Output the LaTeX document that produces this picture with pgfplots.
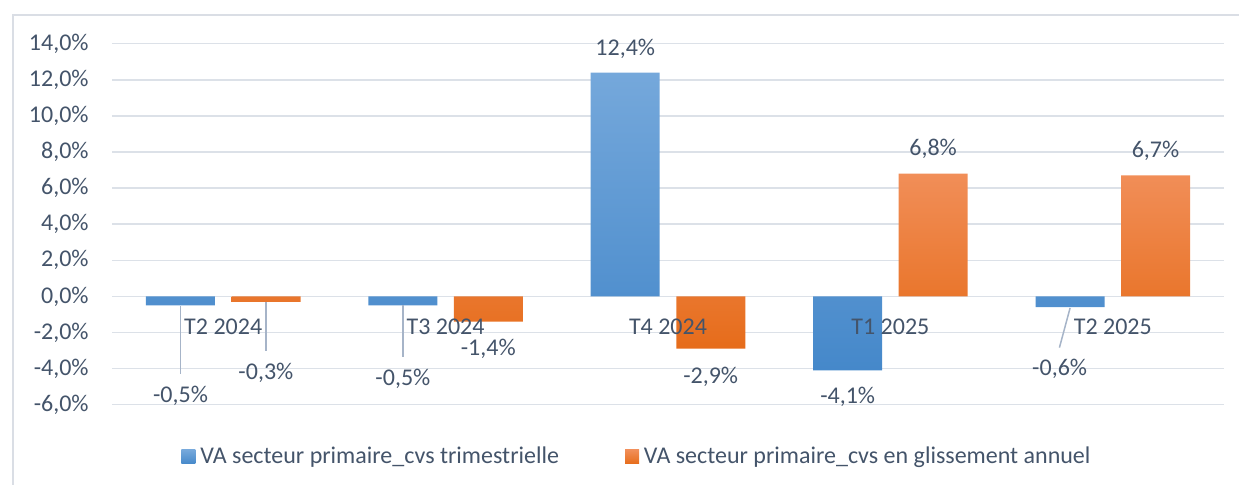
\documentclass[border=0pt]{standalone}
\usepackage{fontspec}
\setmainfont{Carlito}
\usepackage{pgfplots}
\pgfplotsset{compat=1.18}
\pgfplotsset{layers/labelsontop/.define layer set={
    axis background,axis grid,axis ticks,axis lines,pre main,main,
    axis tick labels,axis descriptions,axis foreground}{
    grid style={/pgfplots/on layer=axis grid},
    tick style={/pgfplots/on layer=axis ticks},
    axis line style={/pgfplots/on layer=axis lines},
    label style={/pgfplots/on layer=axis descriptions},
    legend style={/pgfplots/on layer=axis descriptions},
    ticklabel style={/pgfplots/on layer=axis tick labels},
  }}

\definecolor{txt}{HTML}{44546A}
\definecolor{gridc}{HTML}{DCE1E8}
\definecolor{framec}{HTML}{DADEE5}
\definecolor{leader}{HTML}{A6B4C8}
\definecolor{blueTop}{HTML}{75A8DB}
\definecolor{blueBot}{HTML}{4588CA}
\definecolor{orTop}{HTML}{F18E58}
\definecolor{orBot}{HTML}{E66C1A}

% bars: x, value
\pgfplotstableread{
x y
0 -0.5
1 -0.5
2 12.4
3 -4.1
4 -0.6
}\trim
\pgfplotstableread{
x y
0 -0.3
1 -1.4
2 -2.9
3 6.8
4 6.7
}\glis
% data labels: x, baseline y, value
\pgfplotstableread{
x ly v
-0.192 -5.86 -0.5
0.808 -4.92 -0.5
1.808 13.36 12.4
2.808 -5.96 -4.1
3.761 -4.37 -0.6
}\trimlab
\pgfplotstableread{
x ly v
0.192 -4.59 -0.3
1.192 -3.26 -1.4
2.192 -4.85 -2.9
3.192 7.82 6.8
4.192 7.67 6.7
}\glislab

\begin{document}
\begin{tikzpicture}
\fontsize{12}{14}\selectfont
\begin{axis}[
  set layers=labelsontop,
  at={(0,0)}, anchor=south west,
  scale only axis, width=556pt, height=180.5pt,
  xmin=-0.5, xmax=4.5, ymin=-6, ymax=14,
  ytick={-6,-4,...,14},
  xtick={0,1,2,3,4},
  xticklabels={T2 2024,T3 2024,T4 2024,T1 2025,T2 2025},
  /pgf/number format/assume math mode=true,
  yticklabel={\pgfmathprintnumber[fixed,fixed zerofill,precision=1,use comma]{\tick}\%},
  yticklabel style={anchor=east, inner sep=0pt, xshift=-11.5pt},
  xticklabel style={anchor=base, inner sep=0pt, yshift=34.85pt},
  major tick length=0pt,
  axis line style={draw=none},
  ymajorgrids,
  major grid style={color=gridc, line width=0.75pt},
  tick label style={color=txt, font=\fontsize{12}{14}\selectfont},
  every node near coord/.style={anchor=base, inner sep=0pt, color=txt, font=\fontsize{12}{14}\selectfont},
  clip=false,
  legend columns=2,
  legend style={at={(0.062,-0.1449)}, anchor=west, draw=none, fill=none,
    inner sep=0pt, text=txt, font=\fontsize{12}{14}\selectfont,
    nodes={inner sep=0pt},
    /tikz/every odd column/.append style={column sep=2.5pt},
    /tikz/every even column/.append style={column sep=33pt}},
]
\addplot[ybar, bar width=34.5pt, bar shift=-21.4pt, draw=none,
  top color=blueTop, bottom color=blueBot,
  legend image code/.code={\path[draw=none, top color=blueTop, bottom color=blueBot] (0pt,-3.5pt) rectangle (7pt,3.5pt);}]
  table[x=x, y=y] {\trim};
\addlegendentry{VA secteur primaire\_cvs trimestrielle}
\addplot[ybar, bar width=34.5pt, bar shift=21.4pt, draw=none,
  top color=orTop, bottom color=orBot,
  legend image code/.code={\path[draw=none, top color=orTop, bottom color=orBot] (0pt,-3.5pt) rectangle (7pt,3.5pt);}]
  table[x=x, y=y] {\glis};
\addlegendentry{VA secteur primaire\_cvs en glissement annuel}

% leader lines
\addplot[forget plot, leader, line width=0.75pt, mark=none] coordinates {(-0.192,-0.55) (-0.192,-4.3)};
\addplot[forget plot, leader, line width=0.75pt, mark=none] coordinates {(0.192,-0.3) (0.192,-3.02)};
\addplot[forget plot, leader, line width=0.75pt, mark=none] coordinates {(0.808,-0.5) (0.808,-3.35)};
\addplot[forget plot, leader, line width=0.75pt, mark=none] coordinates {(3.808,-0.64) (3.760,-2.84)};

% data labels
\addplot[forget plot, only marks, mark=none,
  point meta=explicit,
  nodes near coords={\pgfmathprintnumber[fixed,fixed zerofill,precision=1,use comma]{\pgfplotspointmeta}\%}]
  table[x=x, y=ly, meta=v] {\trimlab};
\addplot[forget plot, only marks, mark=none,
  point meta=explicit,
  nodes near coords={\pgfmathprintnumber[fixed,fixed zerofill,precision=1,use comma]{\pgfplotspointmeta}\%}]
  table[x=x, y=ly, meta=v] {\glislab};
\end{axis}
\draw[framec, line width=0.75pt] (-49.5pt,-40.15pt) -- (-49.5pt,194.85pt) -- (563.5pt,194.85pt);
\pgfresetboundingbox
\useasboundingbox (-56pt,-40.15pt) rectangle (563.5pt,202.35pt);
\end{tikzpicture}
\end{document}
